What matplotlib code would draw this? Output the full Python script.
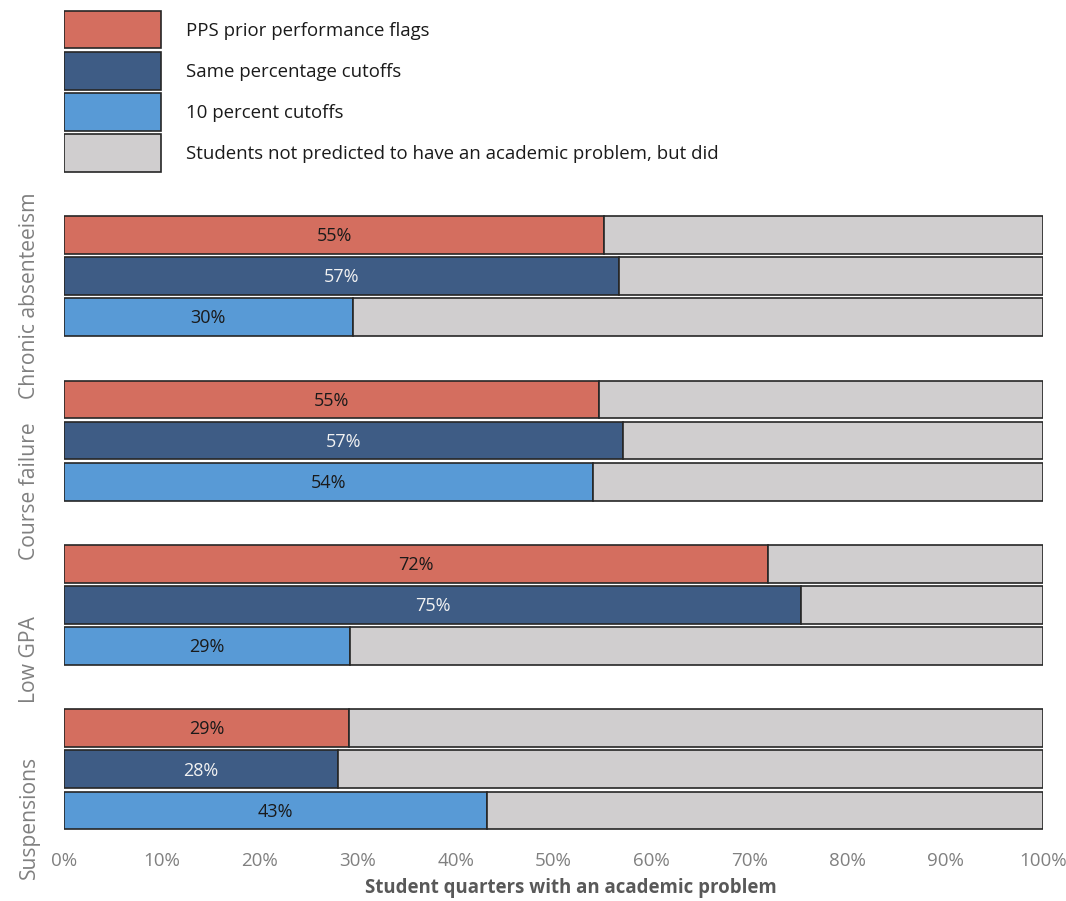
import matplotlib.pyplot as plt
from matplotlib.patches import Rectangle
from matplotlib.ticker import FuncFormatter

plt.rcParams['font.family'] = ['Open Sans', 'DejaVu Sans']

# 数据：各类学业问题中被预测到的比例（%）
problems = ['Chronic absenteeism', 'Course failure', 'Low GPA', 'Suspensions']
methods = ['PPS prior performance flags', 'Same percentage cutoffs', '10 percent cutoffs']
pps_flags = [55.2, 54.6, 71.9, 29.1]
same_pct = [56.7, 57.1, 75.3, 28.0]
ten_pct = [29.5, 54.0, 29.2, 43.2]
rest_label = 'Students not predicted to have an academic problem, but did'

# 样式
colors = ['#D46E5F', '#3E5C85', '#589AD6']
text_colors = ['#1a1a1a', '#f2f2f2', '#1a1a1a']
gray = '#D0CECF'
edge = '#262626'
bar_h = 0.92
label_shift = [0.48, 1.23, 1.34, 1.18]  # 分组标签相对中间条的偏移

fig = plt.figure(figsize=(10.66, 9.01), dpi=100)
ax = fig.add_axes([0.060, 0.0777, 0.9184, 0.9123])

series = [pps_flags, same_pct, ten_pct]
for g, name in enumerate(problems):
    for i, vals in enumerate(series):
        y = g * 4 + i
        v = vals[g]
        ax.barh(y, v, height=bar_h, color=colors[i], edgecolor=edge, linewidth=1.2)
        ax.barh(y, 100 - v, left=v, height=bar_h, color=gray, edgecolor=edge, linewidth=1.2)
        ax.text(v / 2, y + 0.03, f'{v:.0f}%', ha='center', va='center',
                fontsize=13, color=text_colors[i])
    ax.text(-0.035, g * 4 + 1 + label_shift[g], name, rotation=90,
            ha='center', va='center', fontsize=15.2, color='#808080',
            transform=ax.get_yaxis_transform())

# 图例：色块 + 文字
legend_items = list(zip(methods + [rest_label], colors + [gray]))
for k, (txt, col) in enumerate(legend_items):
    y = -5 + k
    ax.add_patch(Rectangle((0, y - bar_h / 2), 9.9, bar_h, facecolor=col,
                           edgecolor=edge, linewidth=1.2))
    ax.text(12.46, y + 0.03, txt, ha='left', va='center', fontsize=13.4, color='#1a1a1a')

ax.set_xlim(0, 100)
ax.set_ylim(14.5, -5.5)
ax.set_xticks(range(0, 101, 10))
ax.xaxis.set_major_formatter(FuncFormatter(lambda x, _: f'{x:.0f}%'))
ax.tick_params(axis='x', length=0, pad=15, labelsize=13.5, labelcolor='#808080')
ax.set_yticks([])
for s in ax.spines.values():
    s.set_visible(False)

ax.set_xlabel('Student quarters with an academic problem', fontsize=13.4,
              fontweight='bold', color='#595959')
ax.xaxis.set_label_coords((571 - 64) / 979, -0.057)

fig.savefig('out.png', dpi=100)
